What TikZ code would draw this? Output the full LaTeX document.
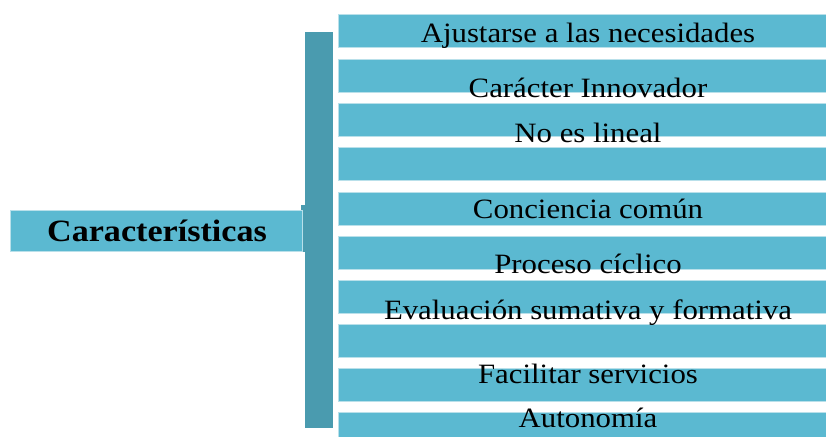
\documentclass[tikz,border=0pt]{standalone}
\usepackage{fontspec}
\setmainfont[FakeStretch=1.1]{Liberation Serif}
\usetikzlibrary{positioning}
\definecolor{barfill}{HTML}{5BB9D1}
\definecolor{braceDk}{HTML}{4A9BAF}
\definecolor{barline}{HTML}{B9E0EA}

\begin{document}
\begin{tikzpicture}[x=1pt, y=-1pt,
    bar/.style={draw=barline, line width=1pt, fill=barfill,
                minimum width=500pt, minimum height=33pt, inner sep=0pt},
    label/.style={anchor=base, inner sep=0pt, font=\fontsize{28}{30}\selectfont, text=black}]
  \useasboundingbox (0,0) rectangle (826,436);
  % the brace that holds the list
  \node[fill=braceDk, minimum width=28pt, minimum height=396pt, inner sep=0pt] (brace) at (319,230) {};
  \fill[braceDk] (301,205) rectangle (306,252);
  % the head box
  \node[fill=barfill, draw=barline, line width=0.8pt, minimum width=292pt, minimum height=41pt,
        inner sep=0pt] (head) at (156,230.5) {};
  \node[anchor=base, inner sep=0pt, font=\fontsize{31}{33}\selectfont\bfseries] (headtext)
        at (157,241) {Características};
  % list of bars
  \foreach \top [count=\i] in {15,59,103,147,192,236,280,324,368,412}
    \node[bar] (b\i) at (588,\top+16.5) {};
  % labels, not centred on their bars
  \foreach \base/\txt [count=\i] in {43/Ajustarse a las necesidades, 97/Carácter Innovador,
      142/No es lineal, 218/Conciencia común, 273/Proceso cíclico,
      319/Evaluación sumativa y formativa, 383/Facilitar servicios, 427/Autonomía}
    \node[label] (t\i) at (588,\base) {\txt};
\end{tikzpicture}
\end{document}
